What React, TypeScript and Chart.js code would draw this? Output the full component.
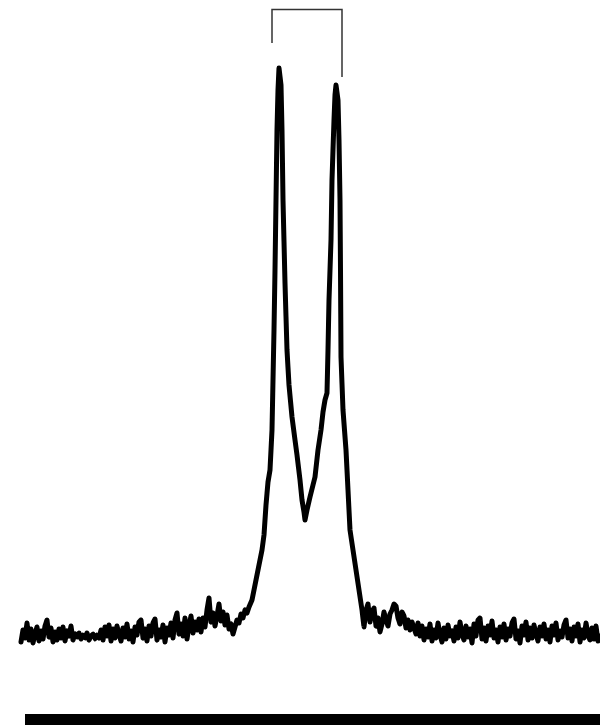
import React, { useEffect, useRef } from "react";
import { Chart, registerables } from "chart.js";

Chart.register(...registerables);

// Spectrum: counts above baseline, channel axis
const LEFT_START = 21;
const GRID_STEP = 2;
const leftBaselineCounts = [
  -10, 2, -6, 9, -8, 3, -11, -2, 5, -9,
  1, -7, 6, 12, -5, 4, -10, 0, -8, 3,
  -6, 5, -9, 1, -4, 6, -8, -2, -5, -1,
  -7, -3, -6, -1, -8, -4, -2, -7, -3, -6,
  2, -8, 5, -4, 7, -9, 3, -6, 6, -2,
  -9, 4, -5, 8, -7, 1, -10, 5, -3, 10,
  12, -6, 3, -9, 6, -4, 9, 13, -8, 2,
  -5, 7, -10, 4, -3, 9, -6, 12, 19, -2,
  8, -4, 14, -7, 6, 16, -1, 10, 2, 13,
  0, 14, 5, 22, 34, 10, 19, 6, 16, 28,
  11, 20, 7, 17, 3, 8, -2, 5, 12, 9,
  18, 14, 22, 19, 25,
];

const peakChannels = [
  252, 254, 256, 259, 262, 264, 266, 268, 270, 272, 273, 274, 275, 276, 277, 278, 279,
  281, 282, 283, 285, 287, 289, 292, 295, 297, 300, 302, 304, 305, 307, 310, 313, 315,
  318, 321, 323, 325, 327, 328, 329, 331, 332, 334, 335, 336, 338, 339, 340, 340.5, 341,
  343, 346, 348, 350, 353, 356, 359, 362, 364,
  366, 368, 370, 372, 374, 376, 378, 380, 382, 384, 386, 388, 390, 392, 394, 396, 398,
  400, 402, 404, 406, 408, 410, 412, 414, 416, 418, 420,
];
const peakCounts = [
  32, 42, 52, 67, 82, 97, 127, 150, 162, 202, 252, 302, 362, 432, 502, 542, 564,
  547, 502, 432, 349, 282, 247, 215, 192, 177, 152, 132, 120, 112, 122, 135, 147, 155,
  182, 202, 220, 232, 239, 282, 332, 392, 452, 512, 537, 547, 532, 492, 432, 362, 275,
  222, 182, 142, 102, 82, 62, 42, 22, 5,
  22, 28, 10, 20, 24, 6, 14, 0, 8, 20, 12, 6, 18, 22, 28, 26, 14,
  8, 20, 16, 4, 12, 2, 10, 4, -2, 9, -4,
];

const RIGHT_START = 422;
const rightBaselineCounts = [
  6, -8, 3, -5, 8, -9, 2, -6, 9, -3,
  -10, 4, -7, 7, -4, 1, -9, 5, -6, 10,
  -2, -8, 6, -5, 3, -11, 8, -4, 12, 14,
  -7, 4, -9, 6, -3, 11, -6, 2, -10, 5,
  -5, 8, -8, 3, -4, 9, 13, -7, 1, -11,
  6, -3, 10, -8, 4, -6, 7, -2, -9, 5,
  -4, 8, -7, 2, -10, 6, -3, 9, -8, 1,
  -5, 7, 12, -6, 3, -9, 5, -4, 8, -10,
  2, -6, 9, -3, -8, 4, -7, 6, -9, -4,
];

// Bracket marking the doublet
const bracketChannels = [272, 272, 342, 342];
const bracketCounts = [589, 622.5, 622.5, 555];

// Thick base bar
const baseBarChannels = [25, 600];
const baseBarCounts = [-88, -88];

export default function App() {
  const ref = useRef<HTMLCanvasElement | null>(null);

  useEffect(() => {
    if (!ref.current) return;
    const spectrum: { x: number; y: number }[] = [];
    leftBaselineCounts.forEach((v, i) => spectrum.push({ x: LEFT_START + i * GRID_STEP, y: v }));
    peakChannels.forEach((c, i) => spectrum.push({ x: c, y: peakCounts[i] }));
    rightBaselineCounts.forEach((v, i) => spectrum.push({ x: RIGHT_START + i * GRID_STEP, y: v }));

    const chart = new Chart(ref.current, {
      type: "line",
      data: {
        datasets: [
          {
            data: spectrum,
            borderColor: "#000000",
            borderWidth: 5,
            pointRadius: 0,
            tension: 0.01,
            borderJoinStyle: "round",
            borderCapStyle: "round",
          },
          {
            data: bracketChannels.map((c, i) => ({ x: c, y: bracketCounts[i] })),
            borderColor: "#333333",
            borderWidth: 1.5,
            pointRadius: 0,
            tension: 0,
          },
          {
            data: baseBarChannels.map((c, i) => ({ x: c, y: baseBarCounts[i] })),
            borderColor: "#000000",
            borderWidth: 12,
            pointRadius: 0,
            tension: 0,
            borderCapStyle: "butt",
          },
        ],
      },
      options: {
        responsive: false,
        animation: false,
        layout: { padding: 0 },
        plugins: { legend: { display: false }, title: { display: false }, tooltip: { enabled: false } },
        scales: {
          x: { type: "linear", min: 0, max: 600, display: false },
          y: { type: "linear", min: -93, max: 632, display: false },
        },
      },
    });
    return () => chart.destroy();
  }, []);

  return (
    <div style={{ position: "fixed", left: 0, top: 0, width: 600, height: 725, background: "#ffffff" }}>
      <canvas ref={ref} width={600} height={725} style={{ width: 600, height: 725 }} />
    </div>
  );
}
